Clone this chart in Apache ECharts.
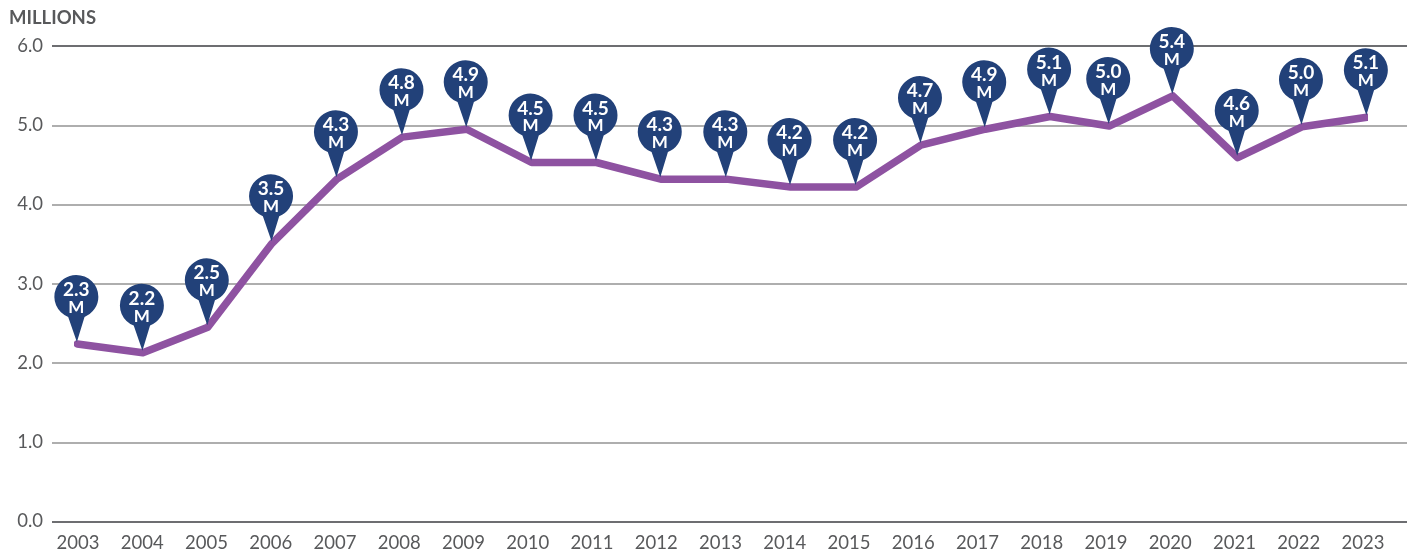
<!DOCTYPE html>
<html><head><meta charset="utf-8">
<script src="https://cdn.jsdelivr.net/npm/echarts@6/dist/echarts.min.js"></script>
<style>html,body{margin:0;padding:0;background:#fff}#c{width:1413px;height:555px}</style>
</head><body><div id="c"></div>
<script>
const years = [2003,2004,2005,2006,2007,2008,2009,2010,2011,2012,2013,2014,2015,2016,2017,2018,2019,2020,2021,2022,2023];
// the marks in the source sit slightly off the evenly spaced year labels
const plottedYears = [2002.99,2004.01,2005.02,2006.02,2007.03,2008.05,2009.05,2010.06,2011.07,2012.07,2013.09,2014.09,2015.11,2016.12,2017.12,2018.13,2019.05,2020.04,2021.05,2022.05,2023.06];
const values = [2.24,2.13,2.45,3.51,4.32,4.85,4.95,4.53,4.53,4.32,4.32,4.22,4.22,4.75,4.95,5.11,4.99,5.37,4.59,4.98,5.10];
const pinLabels = ['2.3','2.2','2.5','3.5','4.3','4.8','4.9','4.5','4.5','4.3','4.3','4.2','4.2','4.7','4.9','5.1','5.0','5.4','4.6','5.0','5.1'];
const yTicks = ['0.0','1.0','2.0','3.0','4.0','5.0','6.0'];

const points = plottedYears.map((x,i)=>[x,values[i]]);
const PIN = 'path://M21.75 0A21.75 21.75 0 0 1 30 41.9L22.5 67L14 41.9A21.75 21.75 0 0 1 21.75 0Z';
const font = 'Lato, "Open Sans", sans-serif';
const chart = echarts.init(document.getElementById('c'), null, {renderer:'canvas'});
chart.setOption({
  animation:false,
  backgroundColor:'#fff',
  title:{text:'MILLIONS',left:9,top:9,padding:0,textStyle:{fontFamily:font,fontSize:18.5,fontWeight:700,color:'#58595b'}},
  grid:[
    {left:52,right:6,top:46,bottom:33.5},
    {left:78,right:50,top:46,bottom:33.5}
  ],
  xAxis:[
    {gridIndex:0,type:'value',min:0,max:1,show:false,splitLine:{show:false}},
    {gridIndex:1,type:'value',min:2003,max:2023,interval:1,
      axisLine:{show:false},axisTick:{show:false},splitLine:{show:false},
      axisLabel:{margin:12.5,fontFamily:font,fontSize:18.5,color:'#58595b',align:'center',
        formatter:(v)=>String(years[v-2003])}}
  ],
  yAxis:[
    {gridIndex:0,type:'value',min:0,max:6,interval:1,
      axisLine:{show:false},axisTick:{show:false},
      axisLabel:{margin:9,fontFamily:font,fontSize:18.5,color:'#58595b',padding:[0,0,4,0],formatter:(v)=>yTicks[v]},
      splitLine:{show:true,lineStyle:{width:2,color:['#6d6e71','#aeaeae','#aeaeae','#aeaeae','#aeaeae','#aeaeae','#6d6e71']}}},
    {gridIndex:1,type:'value',min:0,max:6,interval:1,show:false,splitLine:{show:false}}
  ],
  series:[
    {type:'line',xAxisIndex:1,yAxisIndex:1,data:points,showSymbol:false,z:2,clip:false,
      lineStyle:{color:'#8e52a1',width:7.5,cap:'round',join:'round'}},
    {type:'scatter',xAxisIndex:1,yAxisIndex:1,data:points,z:3,clip:false,
      symbol:PIN,symbolSize:[44,67],symbolOffset:[-1,-35.5],symbolKeepAspect:false,
      itemStyle:{color:'#224179',opacity:1},
      label:{show:true,position:'inside',offset:[0,-10],
        formatter:(p)=>'{a|'+pinLabels[p.dataIndex]+'}\n{b|M}',
        rich:{
          a:{fontFamily:font,fontSize:19,fontWeight:700,lineHeight:18,color:'#fff'},
          b:{fontFamily:font,fontSize:17,fontWeight:700,lineHeight:17,color:'#fff'}
        }},
      emphasis:{disabled:true}}
  ]
});
</script></body></html>
